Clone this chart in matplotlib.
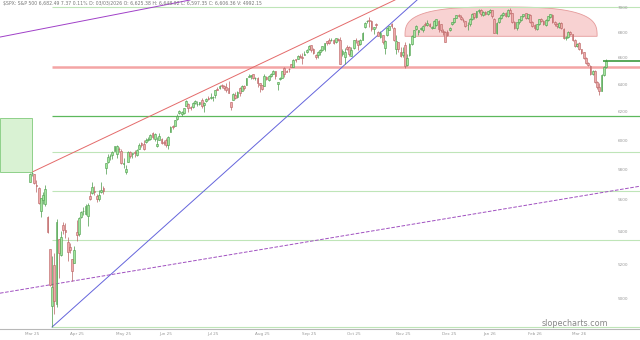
import matplotlib
matplotlib.use('Agg')
import matplotlib.pyplot as plt
import numpy as np
from matplotlib.patches import Rectangle, Polygon
from matplotlib.ticker import NullLocator

# daily candles, Mar 24 2025 onward (index = trading day)
opens = [5718, 5775, 5771, 5696, 5679, 5527, 5598, 5573, 5492, 5292,
         4953, 5193, 4966, 5353, 5256, 5441, 5412, 5336, 5306, 5232,
         5208, 5396, 5381, 5490, 5529, 5508, 5499, 5626, 5645, 5658,
         5627, 5608, 5651, 5679, 5808, 5851, 5892, 5899, 5929, 5903,
         5941, 5926, 5838, 5781, 5854, 5918, 5908, 5918, 5897, 5939,
         5979, 5974, 5985, 6005, 6009, 6050, 6009, 5962, 6005, 6012,
         5985, 5999, 5970, 6061, 6097, 6102, 6150, 6193, 6187, 6190,
         6246, 6255, 6233, 6235, 6263, 6256, 6256, 6286, 6249, 6279,
         6300, 6304, 6306, 6326, 6368, 6371, 6397, 6386, 6378, 6375,
         6271, 6287, 6326, 6309, 6372, 6353, 6389, 6398, 6453, 6462,
         6478, 6446, 6446, 6409, 6396, 6387, 6458, 6437, 6461, 6482,
         6501, 6401, 6444, 6452, 6522, 6498, 6518, 6552, 6533, 6588,
         6594, 6616, 6609, 6626, 6642, 6665, 6698, 6668, 6623, 6619,
         6648, 6663, 6672, 6732, 6738, 6736, 6740, 6721, 6747, 6736,
         6627, 6610, 6682, 6683, 6618, 6677, 6736, 6731, 6705, 6740,
         6838, 6884, 6893, 6889, 6821, 6866, 6800, 6759, 6774, 6675,
         6780, 6818, 6860, 6835, 6668, 6722, 6646, 6621, 6700, 6545,
         6619, 6709, 6759, 6822, 6800, 6822, 6816, 6866, 6856, 6866,
         6835, 6835, 6853, 6890, 6860, 6812, 6802, 6800, 6814, 6866,
         6878, 6911, 6935, 6920, 6899, 6886,
         6855, 6860, 6905, 6948, 6918, 6965, 6975, 6935, 6960, 6940,
         6962, 6972, 6905, 6795, 6880, 6912, 6932, 6952, 6930, 6978,
         6952, 6878, 6832, 6878, 6898, 6928, 6948, 6912, 6938, 6878,
         6852, 6828, 6860, 6902, 6888, 6858, 6892, 6922, 6938, 6878,
         6862, 6840, 6872, 6828, 6752, 6758, 6802, 6782, 6738, 6688,
         6712, 6665, 6642, 6598, 6562, 6540, 6478, 6502, 6418, 6380,
         6355, 6470, 6532]
highs = [5775, 5787, 5771, 5732, 5685, 5615, 5651, 5696, 5500, 5293,
         5246, 5267, 5481, 5353, 5400, 5460, 5450, 5368, 5328, 5232,
         5309, 5469, 5489, 5528, 5553, 5571, 5581, 5658, 5721, 5691,
         5638, 5668, 5721, 5692, 5845, 5906, 5906, 5929, 5959, 5968,
         5953, 5938, 5878, 5829, 5924, 5924, 5915, 5935, 5942, 5981,
         5991, 5999, 6017, 6022, 6044, 6060, 6051, 6026, 6051, 6014,
         6001, 6018, 6028, 6101, 6108, 6146, 6188, 6215, 6210, 6231,
         6285, 6262, 6242, 6269, 6290, 6277, 6273, 6304, 6271, 6300,
         6316, 6336, 6316, 6361, 6381, 6396, 6402, 6395, 6410, 6428,
         6272, 6335, 6343, 6350, 6379, 6396, 6397, 6447, 6481, 6474,
         6481, 6457, 6456, 6408, 6394, 6479, 6466, 6472, 6487, 6507,
         6502, 6421, 6459, 6502, 6532, 6511, 6520, 6555, 6593, 6592,
         6624, 6627, 6639, 6656, 6671, 6698, 6699, 6679, 6632, 6653,
         6670, 6692, 6718, 6728, 6750, 6754, 6746, 6756, 6754, 6765,
         6666, 6677, 6700, 6689, 6680, 6739, 6753, 6741, 6747, 6800,
         6878, 6896, 6920, 6899, 6841, 6871, 6807, 6809, 6778, 6735,
         6839, 6851, 6870, 6840, 6775, 6725, 6683, 6682, 6720, 6630,
         6715, 6776, 6819, 6853, 6816, 6844, 6853, 6880, 6894, 6875,
         6849, 6894, 6903, 6895, 6863, 6821, 6812, 6814, 6843, 6880,
         6914, 6937, 6945, 6935, 6909, 6888,
         6880, 6910, 6950, 6955, 6970, 6982, 6980, 6968, 6966, 6970,
         6982, 6976, 6910, 6880, 6922, 6940, 6956, 6958, 6980, 6990,
         6955, 6888, 6845, 6885, 6908, 6938, 6955, 6930, 6945, 6890,
         6860, 6866, 6905, 6910, 6895, 6900, 6930, 6945, 6942, 6885,
         6870, 6876, 6878, 6835, 6772, 6805, 6810, 6788, 6742, 6715,
         6720, 6672, 6648, 6605, 6570, 6548, 6505, 6510, 6425, 6408,
         6475, 6538, 6588]
lows = [5718, 5759, 5703, 5651, 5573, 5488, 5571, 5563, 5390, 5070,
        4835, 4910, 4948, 5115, 5250, 5387, 5358, 5220, 5265, 5101,
        5208, 5343, 5371, 5484, 5502, 5505, 5433, 5597, 5637, 5634,
        5590, 5593, 5644, 5636, 5774, 5847, 5867, 5869, 5926, 5878,
        5917, 5839, 5811, 5768, 5852, 5876, 5878, 5885, 5893, 5937,
        5952, 5932, 5983, 5992, 6003, 6011, 5998, 5952, 6003, 5978,
        5968, 5956, 5943, 6056, 6078, 6099, 6145, 6182, 6174, 6187,
        6241, 6201, 6214, 6232, 6259, 6243, 6252, 6231, 6201, 6274,
        6288, 6296, 6281, 6303, 6360, 6369, 6375, 6357, 6346, 6336,
        6212, 6287, 6295, 6299, 6318, 6349, 6362, 6395, 6453, 6441,
        6441, 6432, 6380, 6343, 6361, 6386, 6431, 6429, 6458, 6480,
        6444, 6360, 6433, 6445, 6454, 6491, 6497, 6532, 6531, 6570,
        6594, 6598, 6551, 6625, 6637, 6662, 6647, 6632, 6590, 6603,
        6626, 6650, 6656, 6700, 6704, 6734, 6705, 6718, 6728, 6550,
        6618, 6552, 6660, 6615, 6612, 6667, 6715, 6660, 6701, 6740,
        6830, 6872, 6840, 6810, 6782, 6836, 6768, 6756, 6709, 6631,
        6770, 6815, 6834, 6731, 6631, 6646, 6605, 6604, 6521, 6539,
        6618, 6700, 6758, 6818, 6775, 6814, 6801, 6850, 6850, 6838,
        6821, 6832, 6846, 6801, 6801, 6776, 6720, 6773, 6807, 6858,
        6874, 6910, 6923, 6894, 6878, 6843,
        6820, 6851, 6898, 6902, 6912, 6955, 6930, 6925, 6935, 6932,
        6950, 6915, 6790, 6785, 6872, 6900, 6925, 6920, 6922, 6940,
        6872, 6826, 6818, 6865, 6890, 6918, 6905, 6905, 6872, 6842,
        6820, 6818, 6852, 6878, 6852, 6850, 6885, 6915, 6875, 6850,
        6835, 6832, 6822, 6742, 6740, 6750, 6775, 6730, 6680, 6680,
        6658, 6632, 6592, 6552, 6535, 6470, 6470, 6410, 6370, 6323,
        6350, 6465, 6525]
closes = [5768, 5777, 5712, 5693, 5581, 5612, 5633, 5671, 5397, 5074,
          5062, 4983, 5457, 5268, 5363, 5406, 5397, 5276, 5283, 5158,
          5288, 5376, 5485, 5525, 5529, 5561, 5569, 5604, 5687, 5650,
          5607, 5631, 5664, 5660, 5844, 5887, 5893, 5917, 5958, 5964,
          5940, 5845, 5842, 5803, 5922, 5889, 5912, 5912, 5936, 5970,
          5971, 5939, 6000, 6006, 6039, 6022, 6045, 5977, 6033, 5983,
          5981, 5968, 6025, 6092, 6092, 6141, 6173, 6205, 6198, 6227,
          6279, 6230, 6226, 6263, 6280, 6260, 6269, 6244, 6264, 6297,
          6297, 6306, 6310, 6359, 6363, 6389, 6390, 6371, 6363, 6339,
          6238, 6330, 6299, 6345, 6340, 6389, 6373, 6446, 6467, 6469,
          6450, 6449, 6411, 6396, 6370, 6467, 6439, 6466, 6481, 6502,
          6460, 6416, 6448, 6502, 6482, 6495, 6513, 6532, 6587, 6584,
          6615, 6607, 6600, 6632, 6664, 6694, 6657, 6638, 6605, 6644,
          6661, 6688, 6711, 6715, 6716, 6740, 6715, 6754, 6735, 6553,
          6655, 6644, 6671, 6629, 6664, 6735, 6735, 6699, 6738, 6792,
          6875, 6891, 6891, 6822, 6840, 6852, 6772, 6796, 6720, 6729,
          6832, 6847, 6851, 6737, 6734, 6672, 6617, 6642, 6539, 6603,
          6705, 6766, 6813, 6849, 6813, 6829, 6850, 6857, 6870, 6847,
          6841, 6887, 6901, 6827, 6817, 6800, 6721, 6775, 6835, 6878,
          6910, 6932, 6930, 6906, 6896, 6846,
          6858, 6902, 6944, 6921, 6966, 6977, 6940, 6963, 6944, 6966,
          6976, 6930, 6796, 6875, 6915, 6935, 6950, 6930, 6975, 6950,
          6880, 6835, 6880, 6900, 6930, 6945, 6915, 6940, 6880, 6850,
          6830, 6862, 6900, 6885, 6860, 6895, 6925, 6940, 6880, 6860,
          6845, 6870, 6830, 6750, 6760, 6800, 6785, 6740, 6690, 6710,
          6665, 6640, 6600, 6560, 6545, 6480, 6500, 6420, 6380, 6350,
          6470, 6530, 6575]

tick_idx = [1, 21, 42, 61, 82, 104, 125, 145, 167, 188, 206, 226, 246]
tick_labels = ['Mar 25', 'Apr 25', 'May 25', 'Jun 25', 'Jul 25', 'Aug 25', 'Sep 25',
               'Oct 25', 'Nov 25', 'Dec 25', 'Jan 26', 'Feb 26', 'Mar 26']
price_ticks = [5000, 5200, 5400, 5600, 5800, 6000, 6200, 6400, 6600, 6800, 7000]

# drawn levels (start at the April low)
fib_levels = [7000, 5920, 5659, 5345, 4837]
green_level = 6171
pink_level = 6531
last_price = 6575

# drawn lines: (index, price) pairs
red_line = [(1.5, 5787), (163.5, 7057)]
blue_line = [(10, 4835), (173.4, 7057)]
purple_line = [(-13.3, 6761), (71.8, 7057)]
dashed_line = [(-13.3, 5028), (273.2, 5690)]
box = (-13.3, 1.0, 5787, 6157)
dome = (211, 43, 6767, 7000)

header = ("$SPX: S&P 500 6,682.49 7.37 0.11% D: 03/03/2026 O: 6,625.38 "
          "H: 6,648.92 L: 6,597.35 C: 6,606.36 V: 4992.15")

fig = plt.figure(figsize=(6.4, 3.4), dpi=100)
ax = fig.add_axes([0, 11 / 340, 1, 329 / 340])
ax.set_yscale('log')
ax.set_ylim(4824, 7057)
ax.set_xlim(-13.3, 273.2)

# annotations under the candles
x0, x1, y0, y1 = box
ax.add_patch(Rectangle((x0, y0), x1 - x0, y1 - y0, facecolor='#d9f2d3',
                       edgecolor='#8fd08a', lw=0.7, zorder=1, clip_on=False))
cx, hw, base, top = dome
n = 3
th = np.linspace(0, np.pi, 120)
dx = cx + hw * np.sign(np.cos(th)) * np.abs(np.cos(th)) ** (2 / n)
dy = base * (top / base) ** (np.abs(np.sin(th)) ** (2 / n))
ax.add_patch(Polygon(np.column_stack([dx, dy]), closed=True, facecolor='#f8d2d2',
                     edgecolor='#e59a9a', lw=0.6, zorder=1))

xmax = 273.2
for lv in fib_levels:
    ax.hlines(lv, 10, xmax, color='#bfe5b8', lw=0.8, zorder=1)
ax.hlines(green_level, 10, xmax, color='#5cb85c', lw=0.9, zorder=1)
ax.hlines(pink_level, 10, xmax, color='#f4a5a5', lw=1.8, zorder=1)
ax.hlines(last_price, 256.5, xmax, color='#3d9a3d', lw=1.2, zorder=4)

for pts, col, ls in [(red_line, '#e46a6a', '-'), (blue_line, '#6464dc', '-'),
                     (purple_line, '#a040c8', '-'), (dashed_line, '#a050c0', '--')]:
    ax.plot([p[0] for p in pts], [p[1] for p in pts], color=col, lw=0.7, ls=ls, zorder=2)

# candles
o = np.array(opens); h = np.array(highs); l = np.array(lows); c = np.array(closes)
idx = np.arange(len(c))
up = c >= o
face = np.where(up, '#a3e69e', '#eeaaaa')
edge = np.where(up, '#4a9a4a', '#b86060')
ax.vlines(idx, l, h, colors=edge, lw=0.5, zorder=3)
ax.bar(idx, np.maximum(np.abs(c - o), 1), bottom=np.minimum(o, c), width=0.8,
       color=face, edgecolor=edge, lw=0.4, zorder=3)

ax.set_yticks(price_ticks)
ax.set_yticklabels([str(p) for p in price_ticks])
ax.yaxis.set_minor_locator(NullLocator())
ax.tick_params(axis='y', which='both', left=False, labelleft=False, right=False,
               labelright=True, length=0, pad=-16, labelsize=3, labelcolor='#999999')
ax.set_xticks(tick_idx)
ax.set_xticklabels(tick_labels)
ax.tick_params(axis='x', length=0, pad=2, labelsize=3, labelcolor='#999999')
for s in ['top', 'left', 'right']:
    ax.spines[s].set_visible(False)
ax.spines['bottom'].set_color('#b8b8b8')
ax.spines['bottom'].set_linewidth(0.8)

fig.text(3 / 640, 1 - 3 / 340, header, fontsize=3.3, color='#777777', va='center', ha='left')
fig.text(575 / 640, 1 - 323 / 340, 'slopecharts.com', fontsize=5.8, color='#888888',
         va='center', ha='center')

fig.savefig('out.png', dpi=100)
